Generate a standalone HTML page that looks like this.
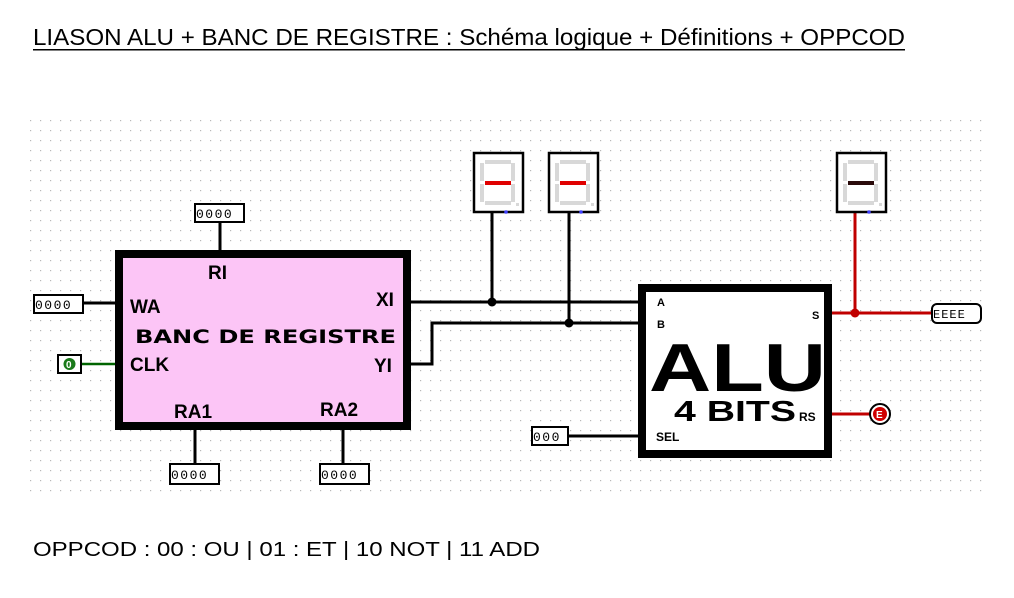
<!DOCTYPE html>
<html><head><meta charset="utf-8"><style>
html,body{margin:0;padding:0;background:#fff;}
svg{display:block;}
</style></head><body>
<svg width="1014" height="598" viewBox="0 0 1014 598" xmlns="http://www.w3.org/2000/svg" font-family="Liberation Sans, sans-serif">
<defs>
<pattern id="g" x="30" y="120" width="10" height="10" patternUnits="userSpaceOnUse">
<rect x="0" y="0" width="1.2" height="1.2" fill="#b8b8b8"/>
</pattern>
</defs>
<rect x="30" y="120" width="956" height="376" fill="url(#g)"/>
<text x="33" y="45" font-size="23" textLength="872" lengthAdjust="spacingAndGlyphs">LIASON ALU + BANC DE REGISTRE : Schéma logique + Définitions + OPPCOD</text>
<rect x="33" y="49" width="872" height="1.5" fill="#000"/>
<text x="33" y="556" font-size="20" textLength="507" lengthAdjust="spacingAndGlyphs">OPPCOD : 00 : OU |  01 : ET | 10 NOT | 11 ADD</text>

<g stroke="#000" stroke-width="3" fill="none">
<line x1="220" y1="222" x2="220" y2="252"/>
<line x1="83" y1="303" x2="117" y2="303"/>
<line x1="195" y1="428" x2="195" y2="464"/>
<line x1="343" y1="428" x2="343" y2="464"/>
<line x1="408" y1="302" x2="640" y2="302"/>
<polyline points="408,364 432,364 432,323 640,323"/>
<line x1="492" y1="212" x2="492" y2="302"/>
<line x1="569" y1="212" x2="569" y2="323"/>
<line x1="568" y1="436" x2="640" y2="436"/>
</g>
<circle cx="492" cy="302" r="4.5"/>
<circle cx="569" cy="323" r="4.5"/>
<line x1="81" y1="364" x2="120" y2="364" stroke="#006400" stroke-width="2.5"/>
<circle cx="120" cy="364" r="2" fill="#006400"/>
<g stroke="#c00000" stroke-width="3" fill="none">
<line x1="830" y1="313" x2="932" y2="313"/>
<line x1="855" y1="212" x2="855" y2="313"/>
<line x1="830" y1="414" x2="870" y2="414"/>
</g>
<circle cx="855" cy="313" r="4.5" fill="#c00000"/>

<rect x="119" y="254" width="288" height="172" fill="#fcc5f6" stroke="#000" stroke-width="8"/>
<g font-weight="bold" font-size="19">
<text x="208" y="279">RI</text>
<text x="130" y="313">WA</text>
<text x="376" y="306">XI</text>
<text x="130" y="371">CLK</text>
<text x="374" y="372">YI</text>
<text x="174" y="418">RA1</text>
<text x="320" y="416">RA2</text>
<text x="135" y="343" font-size="19" textLength="261" lengthAdjust="spacingAndGlyphs" font-family="DejaVu Sans, sans-serif">BANC DE REGISTRE</text>
</g>

<g fill="#fff" stroke="#000" stroke-width="2">
<rect x="195" y="204" width="49" height="18"/>
<rect x="34" y="295" width="49" height="18"/>
<rect x="170" y="464" width="49" height="20"/>
<rect x="320" y="464" width="49" height="20"/>
<rect x="532" y="427" width="36" height="18"/>
</g>
<g font-size="13" font-family="Liberation Mono, monospace" letter-spacing="1.5">
<text x="196" y="218">0000</text>
<text x="35" y="309">0000</text>
<text x="171" y="479">0000</text>
<text x="321" y="479">0000</text>
<text x="533" y="441">000</text>
</g>
<rect x="58" y="355" width="23" height="18" fill="#fff" stroke="#000" stroke-width="2"/>
<circle cx="69.5" cy="364" r="6" fill="#1a7a1a"/>
<text x="66" y="368" font-size="10" fill="#fff" font-weight="bold">0</text>

<g>
<rect x="474" y="153" width="49" height="59" fill="#fff" stroke="#000" stroke-width="2.5"/>
<rect x="549" y="153" width="49" height="59" fill="#fff" stroke="#000" stroke-width="2.5"/>
<rect x="837" y="153" width="49" height="59" fill="#fff" stroke="#000" stroke-width="2.5"/>
</g>
<g fill="#d8d8d8">
<path d="M485 160h26v4h-26zM480 163h4v18h-4zM511 163h4v18h-4zM480 184h4v18h-4zM511 184h4v18h-4zM485 201h26v4h-26zM516 203h3v3h-3z"/>
<path d="M560 160h26v4h-26zM555 163h4v18h-4zM586 163h4v18h-4zM555 184h4v18h-4zM586 184h4v18h-4zM560 201h26v4h-26zM591 203h3v3h-3z"/>
<path d="M848 160h26v4h-26zM843 163h4v18h-4zM874 163h4v18h-4zM843 184h4v18h-4zM874 184h4v18h-4zM848 201h26v4h-26zM879 203h3v3h-3z"/>
</g>
<rect x="485" y="181" width="26" height="4" fill="#e00000"/>
<rect x="560" y="181" width="26" height="4" fill="#e00000"/>
<rect x="848" y="181" width="26" height="4" fill="#2a0a0a"/>
<g fill="#4040ff">
<circle cx="506" cy="212" r="1.8"/><circle cx="581" cy="212" r="1.8"/><circle cx="869" cy="212" r="1.8"/>
</g>

<rect x="642" y="288" width="186" height="166" fill="#fff" stroke="#000" stroke-width="8"/>
<g font-size="11" font-weight="bold">
<text x="657" y="306">A</text>
<text x="657" y="328">B</text>
<text x="812" y="319">S</text>
<text x="799" y="421" font-size="12">RS</text>
<text x="656" y="441" font-size="12">SEL</text>
</g>
<text x="649" y="391" font-size="68" font-weight="bold" textLength="177" lengthAdjust="spacingAndGlyphs">ALU</text>
<text x="674" y="421" font-size="29" font-weight="bold" textLength="122" lengthAdjust="spacingAndGlyphs">4 BITS</text>

<rect x="932" y="304" width="49" height="19" rx="5" fill="#fff" stroke="#000" stroke-width="2"/>
<text x="933" y="318" font-size="12" font-family="Liberation Mono, monospace" letter-spacing="1">EEEE</text>
<circle cx="880" cy="414" r="10" fill="#fff" stroke="#000" stroke-width="2"/>
<circle cx="880" cy="414" r="7" fill="#d00000"/>
<text x="876" y="418" font-size="10" fill="#fff" font-weight="bold">E</text>
</svg>
</body></html>
